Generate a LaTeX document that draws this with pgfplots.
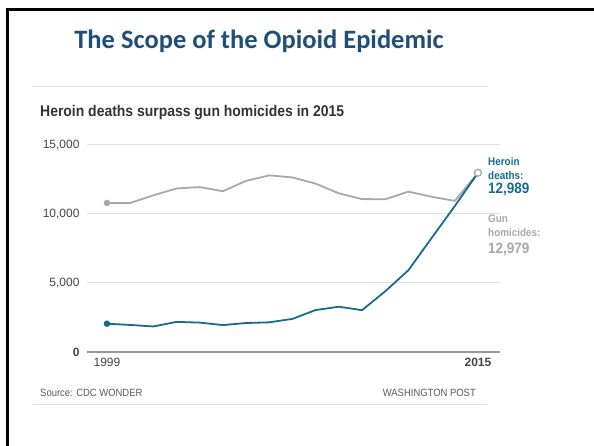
\documentclass[border=0pt]{standalone}
\usepackage{pgfplots}
\pgfplotsset{compat=1.18}
\usepackage{fontspec}
\setmainfont{Liberation Sans}
\newfontfamily\franklin[FakeStretch=0.9]{Liberation Sans}
\newfontfamily\calibri{Carlito}
\definecolor{titleblue}{RGB}{31,78,121}
\definecolor{heroin}{RGB}{22,108,140}
\definecolor{gun}{RGB}{168,168,168}
\definecolor{gridc}{RGB}{224,224,224}
\definecolor{labc}{RGB}{68,68,68}
\begin{document}
\begin{tikzpicture}
\path[use as bounding box] (0pt,0pt) rectangle (594pt,446pt);
% slide frame
\draw[line width=3pt,black] (7.5pt,0pt) -- (7.5pt,436.5pt) -- (594pt,436.5pt);
% titles and rules
\node[anchor=base,text=titleblue,font=\calibri\bfseries\fontsize{26.5}{30}\selectfont] at (259pt,397pt) {The Scope of the Opioid Epidemic};
\draw[gridc,line width=1pt] (33pt,359pt) -- (487pt,359pt);
\node[anchor=base west,inner sep=0pt,text=black!80,font=\franklin\bfseries\fontsize{15.5}{18}\selectfont] at (40pt,329pt) {Heroin deaths surpass gun homicides in 2015};
\draw[gridc,line width=1pt] (33pt,41pt) -- (487pt,41pt);
\node[anchor=base west,inner sep=0pt,text=black!65,font=\franklin\fontsize{10.5}{12}\selectfont] at (40pt,49pt) {Source: CDC WONDER};
\node[anchor=base east,inner sep=0pt,text=black!65,font=\franklin\fontsize{10.5}{12}\selectfont] at (476pt,49pt) {WASHINGTON POST};
\begin{axis}[
  at={(87pt,94pt)}, anchor=south west,
  scale only axis, width=413pt, height=207pt,
  xmin=1998.14, xmax=2015.95, ymin=0, ymax=15000,
  axis line style={draw=none},
  tick style={draw=none},
  scaled y ticks=false,
  xtick={1999,2015}, xticklabels={1999,\textbf{2015}},
  ytick={0,5000,10000,15000},
  yticklabels={\textbf{0},{5,000},{10,000},{15,000}},
  ymajorgrids, grid style={gridc,line width=1pt},
  extra y ticks={0}, extra y tick labels={},
  extra y tick style={grid style={black!40,line width=1.2pt}},
  tick label style={font=\fontsize{12}{14}\selectfont,text=labc},
  yticklabel style={xshift=-4pt},
  xticklabel style={yshift=-3pt},
  clip=false,
]
\addplot[gun,line width=1.8pt] coordinates {
(1999,10800)(2000,10800)(2001,11350)(2002,11850)(2003,11950)(2004,11650)
(2005,12400)(2006,12800)(2007,12650)(2008,12200)(2009,11500)(2010,11080)
(2011,11070)(2012,11620)(2013,11250)(2014,10950)(2015,12979)};
\addplot[heroin,line width=1.8pt] coordinates {
(1999,2050)(2000,1960)(2001,1850)(2002,2180)(2003,2130)(2004,1950)
(2005,2100)(2006,2150)(2007,2400)(2008,3040)(2009,3280)(2010,3030)
(2011,4397)(2012,5925)(2013,8257)(2014,10574)(2015,12989)};
\addplot[only marks,mark=*,mark size=3pt,gun] coordinates {(1999,10800)};
\addplot[only marks,mark=*,mark size=3pt,heroin] coordinates {(1999,2050)};
\addplot[only marks,mark=*,mark size=3.5pt,draw=gun,fill=white,line width=1.3pt] coordinates {(2015,12989)};
\end{axis}
% end labels
\node[anchor=base west,inner sep=0pt,text=heroin,font=\franklin\bfseries\fontsize{11}{14}\selectfont] at (488pt,280pt) {Heroin};
\node[anchor=base west,inner sep=0pt,text=heroin,font=\franklin\bfseries\fontsize{11}{14}\selectfont] at (488pt,266pt) {deaths:};
\node[anchor=base west,inner sep=0pt,text=heroin,font=\franklin\bfseries\fontsize{15}{18}\selectfont] at (488pt,252pt) {12,989};
\node[anchor=base west,inner sep=0pt,text=gun,font=\franklin\bfseries\fontsize{11}{14}\selectfont] at (488pt,223pt) {Gun};
\node[anchor=base west,inner sep=0pt,text=gun,font=\franklin\bfseries\fontsize{11}{14}\selectfont] at (488pt,209pt) {homicides:};
\node[anchor=base west,inner sep=0pt,text=gun,font=\franklin\bfseries\fontsize{15}{18}\selectfont] at (488pt,192pt) {12,979};
\end{tikzpicture}
\end{document}
